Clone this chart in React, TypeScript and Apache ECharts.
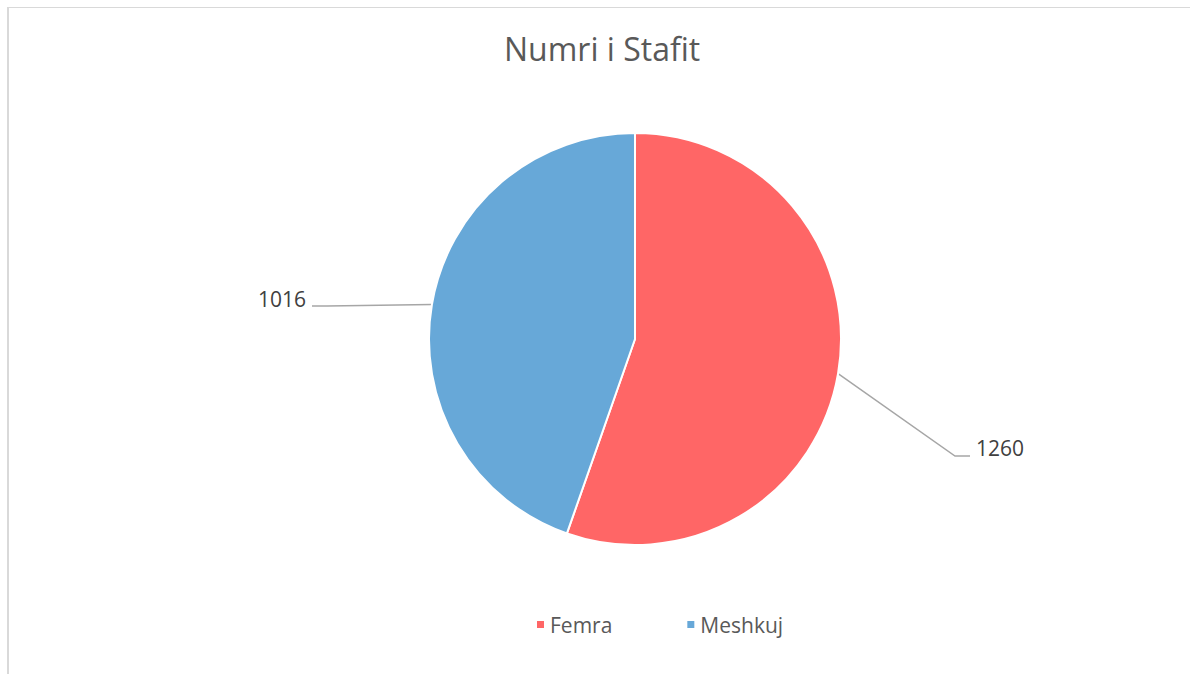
import React, { useEffect, useRef } from "react";
import * as echarts from "echarts";

const titleText = "Numri i Stafit";
const categories = ["Femra", "Meshkuj"];
const values = [1260, 1016];
const colors = ["#FF6666", "#67A8D8"];

export default function App() {
  const ref = useRef<HTMLDivElement>(null);
  useEffect(() => {
    if (!ref.current) return;
    const chart = echarts.init(ref.current, null, { renderer: "svg" });
    const font = "Open Sans";
    chart.setOption({
      animation: false,
      backgroundColor: "#ffffff",
      title: {
        text: titleText,
        left: 499,
        top: 27,
        textStyle: { fontFamily: font, fontSize: 32, fontWeight: "normal", color: "#595959" },
      },
      legend: {
        data: categories,
        left: 530,
        top: 609,
        icon: "rect",
        itemWidth: 9,
        itemHeight: 9,
        itemGap: 73,
        textStyle: { fontFamily: font, fontSize: 21, color: "#595959" },
      },
      graphic: [
        { type: "line", shape: { x1: 7, y1: 7.5, x2: 1190, y2: 7.5 }, style: { stroke: "#d9d9d9", lineWidth: 1 } },
        { type: "line", shape: { x1: 8, y1: 7, x2: 8, y2: 674 }, style: { stroke: "#d9d9d9", lineWidth: 2 } },
      ],
      series: [
        {
          type: "pie",
          center: [635, 339],
          radius: 206,
          startAngle: 90,
          clockwise: true,
          data: categories.map((c, i) => ({
            name: c,
            value: values[i],
            itemStyle: { color: colors[i] },
          })),
          itemStyle: { borderColor: "#ffffff", borderWidth: 2 },
          label: {
            show: true,
            position: "outside",
            formatter: "{c}",
            fontFamily: font,
            fontSize: 21,
            color: "#404040",
          },
          labelLine: { show: true, length: 10, length2: 15, lineStyle: { color: "#A6A6A6", width: 1.5 } },
          labelLayout: (params: any) => {
            const p0 = params.labelLinePoints ? params.labelLinePoints[0] : null;
            if (params.dataIndex === 0) {
              const res: any = { x: 976, y: 448, align: "left", verticalAlign: "middle" };
              if (p0) res.labelLinePoints = [[p0[0], p0[1]], [955, 456], [970, 456]];
              return res;
            }
            const res: any = { x: 306, y: 299, align: "right", verticalAlign: "middle" };
            if (p0) res.labelLinePoints = [[p0[0], p0[1]], [327, 306], [312, 306]];
            return res;
          },
          emphasis: { disabled: true },
        },
      ],
    });
    return () => chart.dispose();
  }, []);
  return (
    <div
      ref={ref}
      style={{ position: "absolute", left: 0, top: 0, width: 1190, height: 674 }}
    />
  );
}
